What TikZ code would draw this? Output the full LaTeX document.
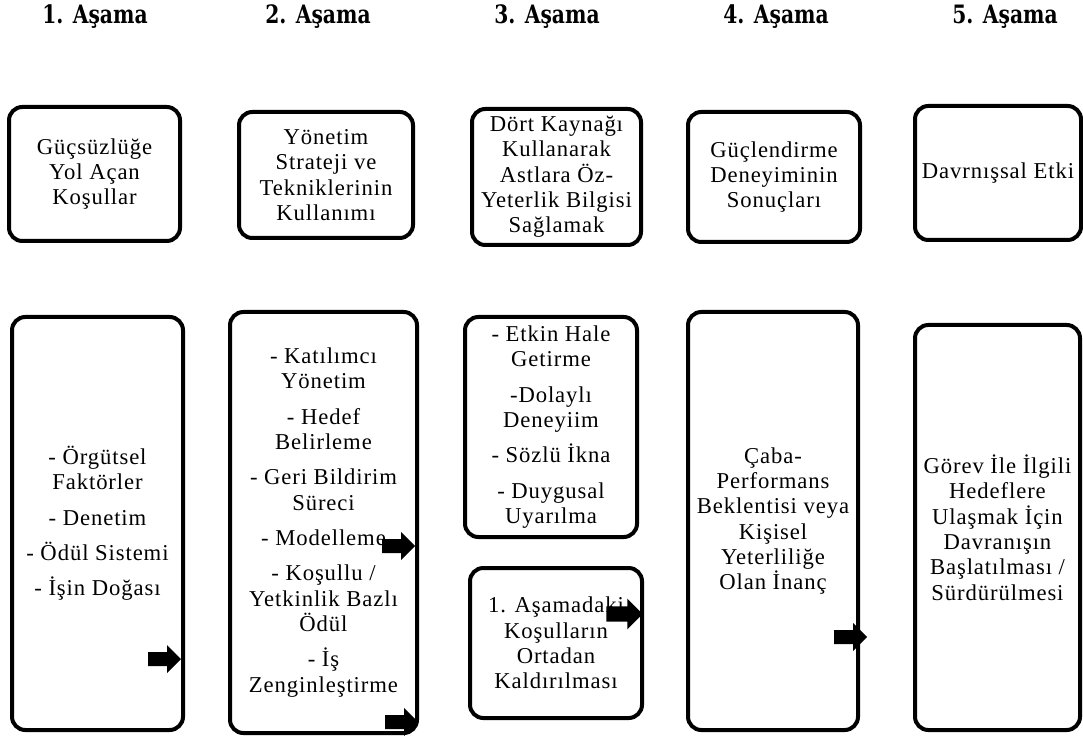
\documentclass[tikz,border=0pt]{standalone}
\usepackage{fontspec}
\setmainfont[LetterSpace=4]{Liberation Serif}
\newfontfamily\headfont[FakeStretch=0.8]{DejaVu Serif Bold}
\tikzset{
  stage/.style={font=\headfont\fontsize{19}{21}\selectfont, inner sep=0pt},
  stagebox/.style={draw=black, line width=3pt, rounded corners=10pt, fill=white,
    align=center, inner sep=0pt, font=\fontsize{17}{19}\selectfont},
  blockarrow/.pic={\fill[black] (-16,-7) -- (3,-7) -- (3,-14) -- (17,0) -- (3,14) -- (3,7) -- (-16,7) -- cycle;}
}
\newcommand{\gap}{\\[7.5pt]}
\begin{document}
\begin{tikzpicture}[x=0.75pt, y=-0.75pt]
\useasboundingbox (0,0) rectangle (1083,738);

% stage headings
\node[stage] (h1) at (95,17)   {1. Aşama};
\node[stage] (h2) at (318,17)  {2. Aşama};
\node[stage] (h3) at (547,17)  {3. Aşama};
\node[stage] (h4) at (776,17)  {4. Aşama};
\node[stage] (h5) at (1005,17) {5. Aşama};

% upper row
\node[stagebox, minimum width=128.25pt, minimum height=100.5pt] (t1) at (94.5,174)
  {Güçsüzlüğe\\Yol Açan\\Koşullar};
\node[stagebox, minimum width=130.5pt, minimum height=94.5pt] (t2) at (326,175)
  {Yönetim\\Strateji ve\\Tekniklerinin\\Kullanımı};
\node[stagebox, minimum width=126.75pt, minimum height=102pt] (t3) at (556.5,177)
  {Dört Kaynağı\\Kullanarak\\Astlara Öz-\\Yeterlik Bilgisi\\Sağlamak};
\node[stagebox, minimum width=129pt, minimum height=97.5pt] (t4) at (774,177)
  {Güçlendirme\\Deneyiminin\\Sonuçları};
\node[stagebox, minimum width=124.5pt, minimum height=100.5pt] (t5) at (998,173)
  {Davrnışsal Etki};

% lower row
\node[stagebox, minimum width=128.25pt, minimum height=309.75pt] (b1) at (97.5,523.5)
  {- Örgütsel\\Faktörler\gap - Denetim\gap - Ödül Sistemi\gap - İşin Doğası};
\node[stagebox, minimum width=140.25pt, minimum height=315.75pt] (b2) at (323.5,522.5)
  {- Katılımcı\\Yönetim\gap - Hedef\\Belirleme\gap - Geri Bildirim\\Süreci\gap
   - Modelleme\gap - Koşullu /\\Yetkinlik Bazlı\\Ödül\gap - İş\\Zenginleştirme};
\node[stagebox, minimum width=129pt, minimum height=165pt] (b3a) at (551,427)
  {- Etkin Hale\\Getirme\gap -Dolaylı\\Deneyiim\gap - Sözlü İkna\gap - Duygusal\\Uyarılma};
\node[stagebox, minimum width=129pt, minimum height=112.5pt] (b3b) at (556,643)
  {1. Aşamadaki\\Koşulların\\Ortadan\\Kaldırılması};
\node[stagebox, minimum width=127.5pt, minimum height=313.5pt] (b4) at (773,521)
  {Çaba-\\Performans\\Beklentisi veya\\Kişisel\\Yeterliliğe\\Olan İnanç};
\node[stagebox, minimum width=123.75pt, minimum height=303.75pt] (b5) at (997.5,527.5)
  {Görev İle İlgili\\Hedeflere\\Ulaşmak İçin\\Davranışın\\Başlatılması /\\Sürdürülmesi};

% block arrows on the right edges
\pic at (164,659) {blockarrow};
\pic at (398,546) {blockarrow};
\pic at (401,722) {blockarrow};
\pic[scale=1.1] at (624,614) {blockarrow};
\pic at (850,637) {blockarrow};
\end{tikzpicture}
\end{document}
